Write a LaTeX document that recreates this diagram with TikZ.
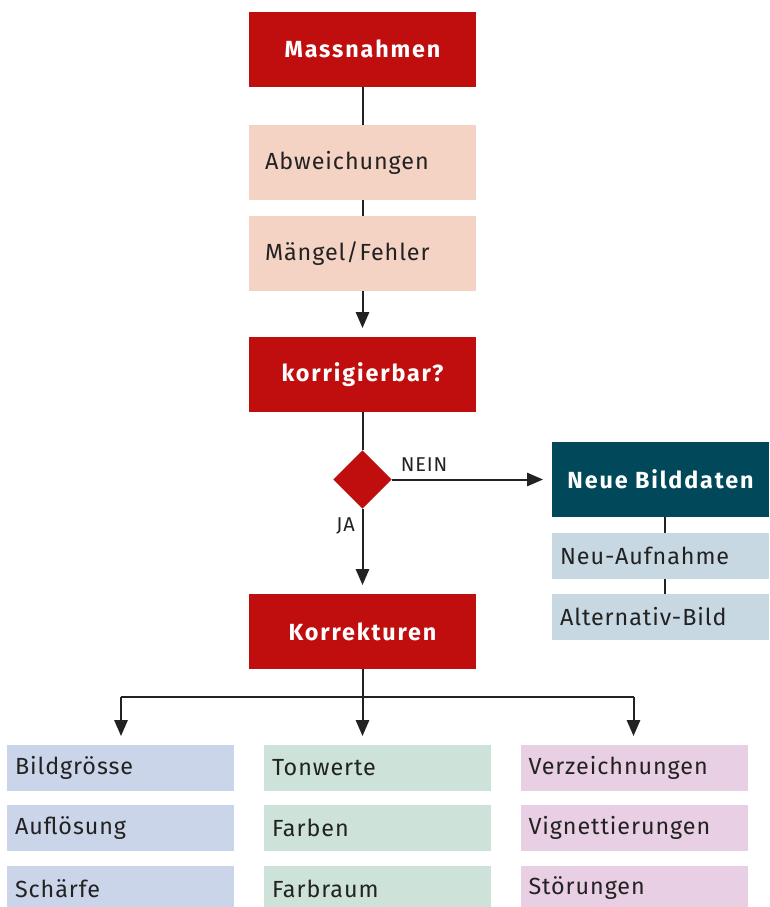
\documentclass[tikz,border=0pt]{standalone}
\usepackage{fontspec}
\setmainfont{Fira Sans}[LetterSpace=4, BoldFeatures={LetterSpace=8}]
\usetikzlibrary{arrows.meta,shapes.geometric}
\definecolor{cred}{HTML}{C00D0E}
\definecolor{cpink}{HTML}{F4D3C4}
\definecolor{cteal}{HTML}{00485A}
\definecolor{cgray}{HTML}{C8D8E2}
\definecolor{cblue}{HTML}{CBD5E9}
\definecolor{cgreen}{HTML}{CDE2D8}
\definecolor{cviolet}{HTML}{E8CFE3}
\definecolor{ctext}{HTML}{222222}
\tikzset{
  base/.style={rectangle, inner sep=0pt, outer sep=0pt, font=\fontsize{17.5}{19}\selectfont, text=ctext},
  redbox/.style={base, fill=cred, text=white, font=\fontsize{17.5}{19}\selectfont\bfseries,
     minimum width=170.25pt, minimum height=56.25pt},
  tealbox/.style={base, fill=cteal, text=white, font=\fontsize{17.5}{19}\selectfont\bfseries,
     minimum width=162.75pt, minimum height=56.25pt},
  lbox/.style={base, minimum height=56.25pt, text width=146.25pt, inner xsep=12pt, align=left},
  sbox/.style={base, minimum height=34.5pt, text width=#1, inner xsep=6pt, align=left},
  conn/.style={line width=1.5pt, draw=ctext},
  arr/.style={conn, -{Triangle[length=12pt,width=10pt]}, shorten >=6.75pt},
  lab/.style={font=\fontsize{15}{17}\selectfont, text=ctext, inner sep=0pt},
}
\begin{document}
\begin{tikzpicture}[x=0.75pt,y=-0.75pt]
\clip (0,0) rectangle (769,907);
\fill[white] (0,0) rectangle (769,907);
\node[redbox] (mass) at (362.5,49) {Massnahmen};
\node[lbox, fill=cpink] (abw) at (362.5,162.5) {Abweichungen};
\node[lbox, fill=cpink] (mang) at (362.5,253.5) {Mängel/Fehler};
\node[redbox] (korr) at (362.5,374.5) {korrigierbar?};
\node[diamond, fill=cred, inner sep=0pt, minimum width=44pt, minimum height=44pt, aspect=1] (dia) at (362.5,479.5) {};
\node[tealbox] (neue) at (660.5,479.5) {Neue Bilddaten};
\node[sbox=150.75pt, fill=cgray] (neu) at (660.5,556) {Neu-Aufnahme};
\node[sbox=150.75pt, fill=cgray] (alt) at (660.5,616.5) {Alternativ-Bild};
\node[redbox] (kor) at (362.5,631.5) {Korrekturen};
% bottom
\node[sbox=158.25pt, fill=cblue] (b1) at (120.5,768) {Bildgrösse};
\node[sbox=158.25pt, fill=cblue] (b2) at (120.5,828) {Auflösung};
\node[sbox=158.25pt, fill=cblue] (b3) at (120.5,888.5) {Schärfe};
\node[sbox=158.25pt, fill=cgreen] (t1) at (377.5,768) {Tonwerte};
\node[sbox=158.25pt, fill=cgreen] (t2) at (377.5,828) {Farben};
\node[sbox=158.25pt, fill=cgreen] (t3) at (377.5,888.5) {Farbraum};
\node[sbox=158.25pt, fill=cviolet] (v1) at (634,768) {Verzeichnungen};
\node[sbox=158.25pt, fill=cviolet] (v2) at (634,828) {Vignettierungen};
\node[sbox=158.25pt, fill=cviolet] (v3) at (634,888.5) {Störungen};
% connectors
\draw[conn] (mass) -- (abw);
\draw[conn] (abw) -- (mang);
\draw[arr] (mang) -- (korr);
\draw[conn] (korr) -- (dia);
\draw[arr] (dia) -- node[lab, above=5pt, pos=0.2] (nein) {NEIN} (neue);
\draw[arr] (dia) -- node[lab, left=5pt, pos=0.2] (ja) {JA} (kor);
\coordinate (nx1) at ([xshift=3.4pt]neue.south);
\coordinate (nx2) at ([xshift=3.4pt]neu.north);
\coordinate (nx3) at ([xshift=3.4pt]neu.south);
\coordinate (nx4) at ([xshift=3.4pt]alt.north);
\draw[conn] (nx1) -- (nx2);
\draw[conn] (nx3) -- (nx4);
\coordinate (br) at (362.5,697);
\coordinate (bl) at (121,697);
\coordinate (brr) at (633.5,697);
\draw[conn] (kor.south) -- (br);
\draw[conn] (bl) -- (brr);
\draw[arr] (bl) -- (bl |- b1.north);
\draw[arr] (br) -- (br |- t1.north);
\draw[arr] (brr) -- (brr |- v1.north);
\end{tikzpicture}
\end{document}
